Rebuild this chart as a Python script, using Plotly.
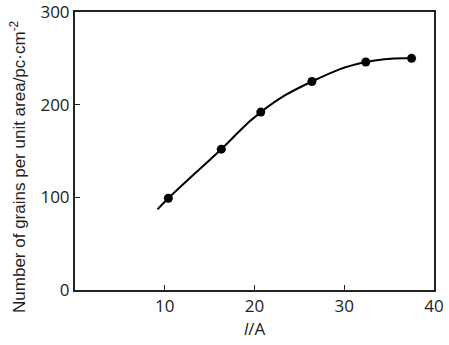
import plotly.graph_objects as go

current_A = [10.4, 16.3, 20.7, 26.4, 32.4, 37.5]
grains = [99, 152, 192, 225, 246, 250]
curve_x = [9.2, 10.4, 16.3, 20.7, 26.4, 32.4, 37.5]
curve_y = [87, 99, 152, 192, 225, 246, 250]

fig = go.Figure()
fig.add_trace(go.Scatter(x=curve_x, y=curve_y, mode="lines",
                         line=dict(color="black", width=2, shape="spline", smoothing=1.3),
                         showlegend=False, hoverinfo="skip"))
fig.add_trace(go.Scatter(x=current_A, y=grains, mode="markers",
                         marker=dict(color="black", size=9),
                         showlegend=False))

tickfont = dict(family="Open Sans, Liberation Sans, sans-serif", size=17, color="#222")
fig.update_layout(
    width=449, height=345,
    margin=dict(l=75, r=15, t=12, b=55),
    paper_bgcolor="white", plot_bgcolor="white",
    xaxis=dict(range=[0, 40], tickvals=[10, 20, 30, 40], ticks="inside", ticklen=5,
               tickcolor="#222", showline=True, linecolor="#222", linewidth=2, mirror=True,
               showgrid=False, zeroline=False, tickfont=tickfont, automargin=False,
               ticklabeloverflow="allow",
               title=dict(text="<i>I</i>/A", font=tickfont, standoff=6)),
    yaxis=dict(range=[0, 300], tickvals=[0, 100, 200, 300], ticks="inside", ticklen=5,
               tickcolor="#222", showline=True, linecolor="#222", linewidth=2, mirror=True,
               showgrid=False, zeroline=False, tickfont=tickfont, automargin=False,
               ticklabeloverflow="allow"),
    annotations=[dict(text="Number of grains per unit area/pc·cm<sup>-2</sup>",
                      xref="paper", yref="paper", x=-0.159, y=0.446, textangle=-90,
                      showarrow=False, xanchor="center", yanchor="middle",
                      font=dict(family="Liberation Sans, Arial, sans-serif", size=17, color="#222"))],
)
fig.write_html("out.html")
